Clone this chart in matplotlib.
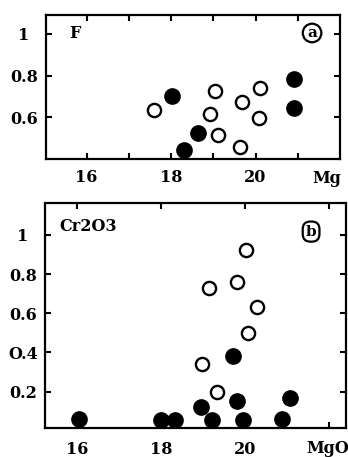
import matplotlib
matplotlib.use("Agg")
import matplotlib.pyplot as plt

# Panel (a): F vs Mg
a_open_x = [17.6, 18.93, 19.03, 19.11, 19.68, 19.64, 20.1, 20.08]
a_open_y = [0.635, 0.614, 0.728, 0.515, 0.675, 0.459, 0.739, 0.598]
a_fill_x = [18.03, 18.65, 18.3, 20.92, 20.92]
a_fill_y = [0.704, 0.526, 0.443, 0.783, 0.643]

# Panel (b): Cr2O3 vs MgO
b_open_x = [20.02, 19.14, 19.82, 20.28, 20.08, 18.98, 19.34]
b_open_y = [0.924, 0.728, 0.759, 0.634, 0.498, 0.34, 0.197]
b_fill_x = [16.05, 17.99, 18.33, 18.95, 19.21, 19.72, 19.8, 19.95, 20.89, 21.07]
b_fill_y = [0.06, 0.055, 0.055, 0.123, 0.055, 0.384, 0.152, 0.055, 0.06, 0.166]

a_xticks = [16, 17, 18, 19, 20, 21]
a_xlabels = ["16", "", "18", "", "20", ""]
a_yticks = [0.6, 0.8, 1.0]
a_ylabels = ["0.6", "0.8", "1"]
b_xticks = [16, 18, 20, 22]
b_xlabels = ["16", "18", "20", ""]
b_yticks = [0.2, 0.4, 0.6, 0.8, 1.0]
b_ylabels = ["0.2", "O.4", "0.6", "0.8", "1"]

plt.rcParams['font.family'] = ['DejaVu Serif']
plt.rcParams['font.weight'] = 'bold'

W, H = 348, 457
fig = plt.figure(figsize=(W / 100, H / 100), dpi=100)

def px_axes(l, t, r, b):
    return fig.add_axes([l / W, 1 - b / H, (r - l) / W, (b - t) / H])

axa = px_axes(46, 15, 340, 159)
axb = px_axes(45, 203.5, 346, 428.3)

def style(ax, xt, xl, yt, yl, xpad, ypad):
    for s in ax.spines.values():
        s.set_linewidth(1.6)
    ax.set_xticks(xt)
    ax.set_xticklabels(xl)
    ax.set_yticks(yt)
    ax.set_yticklabels(yl, ha='center')
    ax.tick_params(direction='in', length=4, width=1.5, top=True, right=True,
                   labelsize=11.5)
    ax.tick_params(axis='x', pad=xpad)
    ax.tick_params(axis='y', pad=ypad)
    for lab in ax.get_xticklabels() + ax.get_yticklabels():
        lab.set_fontweight('bold')

def draw(ax, ox, oy, fx, fy):
    ax.plot(ox, oy, 'o', ms=9.5, mfc='white', mec='black', mew=1.7, ls='none')
    ax.plot(fx, fy, 'o', ms=11, mfc='black', mec='black', ls='none')

draw(axa, a_open_x, a_open_y, a_fill_x, a_fill_y)
axa.set_xlim(15.04, 22.0)
axa.set_ylim(0.4, 1.09)
style(axa, a_xticks, a_xlabels, a_yticks, a_ylabels, 7, 16)
axa.text(0.099, 0.875, "F", transform=axa.transAxes, ha='center', va='center',
         fontsize=11.5, fontweight='bold')
axa.text(0.905, 0.875, "a", transform=axa.transAxes, ha='center', va='center',
         fontsize=11, fontweight='bold',
         bbox=dict(boxstyle='circle,pad=0.15', fc='white', ec='black', lw=1.6))
axa.text(0.956, -0.132, "Mg", transform=axa.transAxes, ha='center', va='center',
         fontsize=11.5, fontweight='bold')

draw(axb, b_open_x, b_open_y, b_fill_x, b_fill_y)
axb.set_xlim(15.23, 22.41)
axb.set_ylim(0.013, 1.16)
style(axb, b_xticks, b_xlabels, b_yticks, b_ylabels, 9, 16)
axb.text(0.047, 0.897, "Cr2O3", transform=axb.transAxes, ha='left', va='center',
         fontsize=11.5, fontweight='bold')
axb.text(0.884, 0.875, "b", transform=axb.transAxes, ha='center', va='center',
         fontsize=11, fontweight='bold',
         bbox=dict(boxstyle='round,pad=0.2,rounding_size=0.5', fc='white', ec='black', lw=1.6))
axb.text(0.94, -0.088, "MgO", transform=axb.transAxes, ha='center', va='center',
         fontsize=11.5, fontweight='bold', clip_on=False)

fig.savefig("out.png", dpi=100)
